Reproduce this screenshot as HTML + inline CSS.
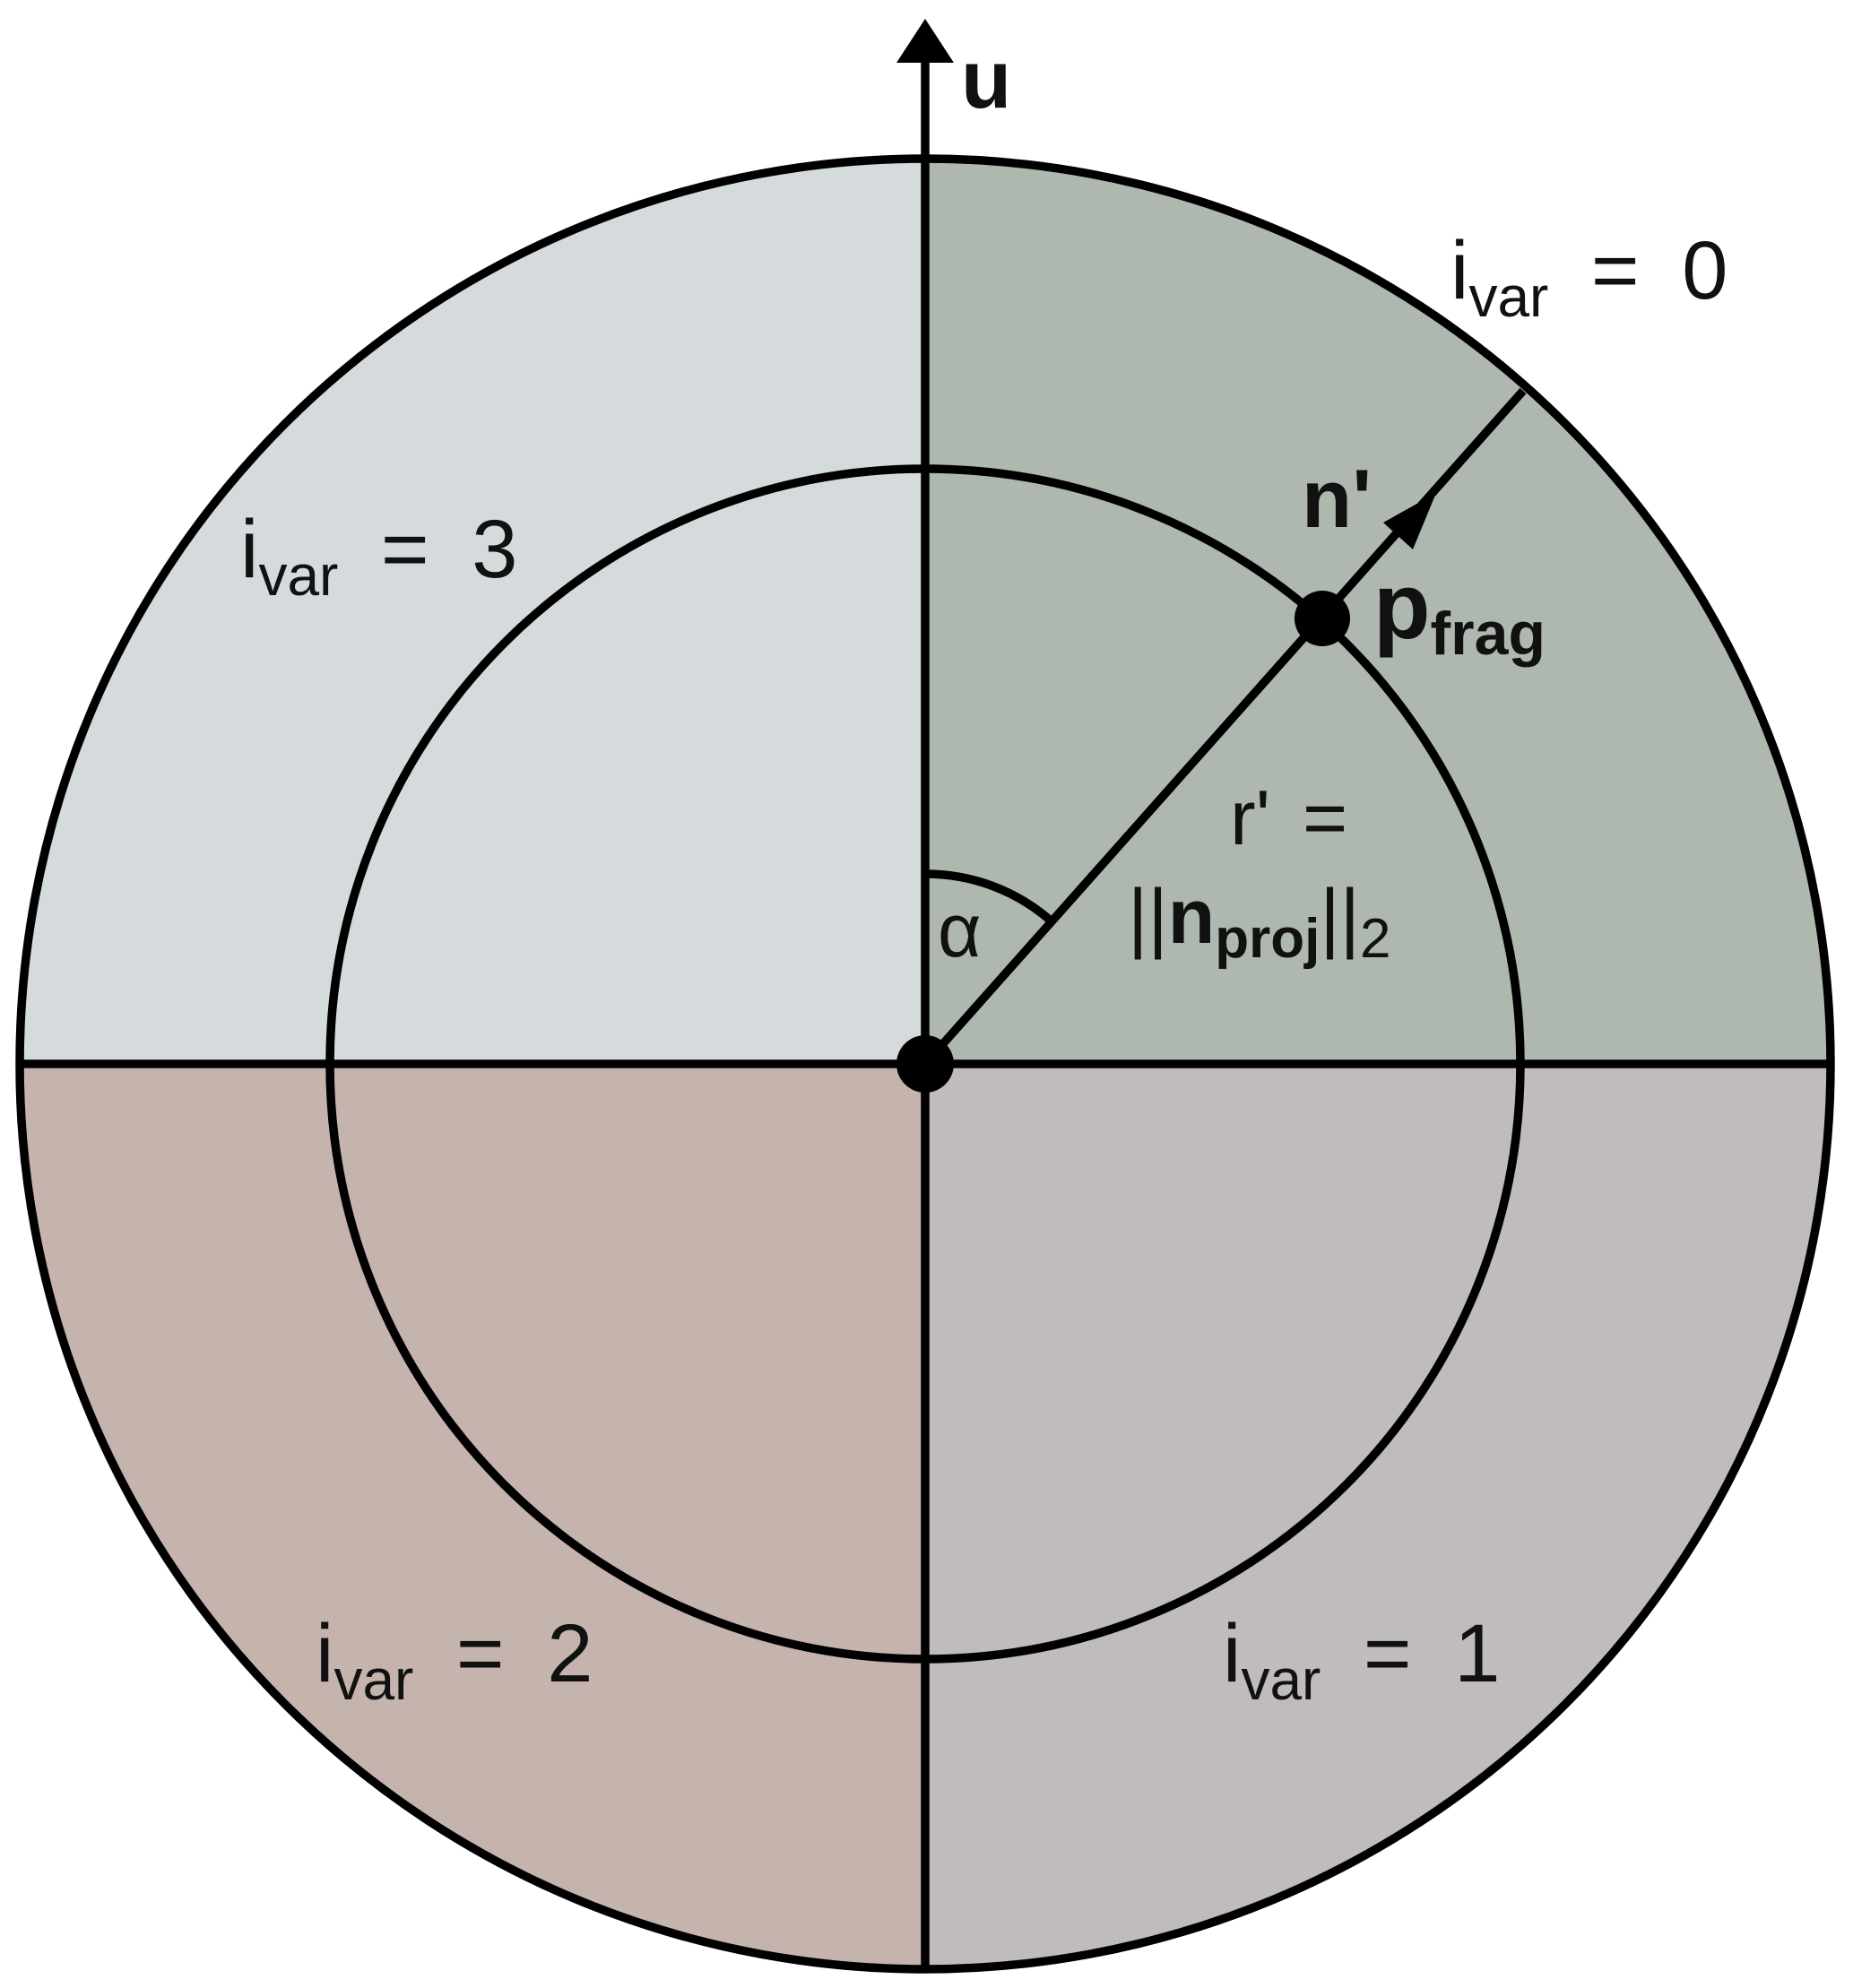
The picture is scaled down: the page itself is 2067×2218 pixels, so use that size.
<!DOCTYPE html>
<html><head><meta charset="utf-8"><style>
html,body{margin:0;padding:0;background:#fff;}
svg{display:block;}
text{font-family:"Liberation Sans",sans-serif;fill:#111;}
</style></head><body>
<svg width="2067" height="2218" viewBox="0 0 2067 2218" xmlns="http://www.w3.org/2000/svg">
<path d="M1032,1187 L1032,177 A1010,1010 0 0 1 2042,1187 Z" fill="#aeb8af"/>
<path d="M1032,1187 L2042,1187 A1010,1010 0 0 1 1032,2197 Z" fill="#bfbbbf"/>
<path d="M1032,1187 L1032,2197 A1010,1010 0 0 1 22,1187 Z" fill="#c5b4ae"/>
<path d="M1032,1187 L22,1187 A1010,1010 0 0 1 1032,177 Z" fill="#d5dadd"/>
<g fill="none" stroke="#000" stroke-width="9.5">
<circle cx="1032" cy="1187" r="1010"/>
<circle cx="1032" cy="1187" r="664"/>
<line x1="22" y1="1187" x2="2042" y2="1187"/>
<line x1="1032" y1="60" x2="1032" y2="2197"/>
<line x1="1032" y1="1187" x2="1699" y2="436"/>
<path d="M1032,975 A212,212 0 0 1 1173,1028"/>
</g>
<polygon points="1032,21 1000,70 1064,70" fill="#000"/>
<polygon points="1602,550 1576,613 1543,583" fill="#000"/>
<circle cx="1032" cy="1187" r="32" fill="#000"/>
<circle cx="1475" cy="690" r="31" fill="#000"/>
<text x="1072" y="120" font-size="92" font-weight="bold">u</text>
<text x="1618" y="333" font-size="92" word-spacing="22">i<tspan font-size="64" dy="20">var</tspan><tspan dy="-20"> = 0</tspan></text>
<text x="268" y="644" font-size="92" word-spacing="22">i<tspan font-size="64" dy="20">var</tspan><tspan dy="-20"> = 3</tspan></text>
<text x="352" y="1876" font-size="92" word-spacing="22">i<tspan font-size="64" dy="20">var</tspan><tspan dy="-20"> = 2</tspan></text>
<text x="1364" y="1876" font-size="92" word-spacing="22">i<tspan font-size="64" dy="20">var</tspan><tspan dy="-20"> = 1</tspan></text>
<text x="1452" y="588" font-size="92" font-weight="bold">n'</text>
<text x="1532" y="712" font-size="104" font-weight="bold">p<tspan font-size="68" dy="18">frag</tspan></text>
<text x="1372" y="942" font-size="86" word-spacing="12">r' =</text>
<text x="1258" y="1052" font-size="86">||<tspan font-weight="bold">n</tspan><tspan font-size="62" font-weight="bold" dy="16">proj</tspan><tspan dy="-16">||</tspan><tspan font-size="62" dy="16">2</tspan></text>
<text x="1046" y="1067" font-size="84" font-family="Liberation Serif,serif">α</text>
</svg>
</body></html>
